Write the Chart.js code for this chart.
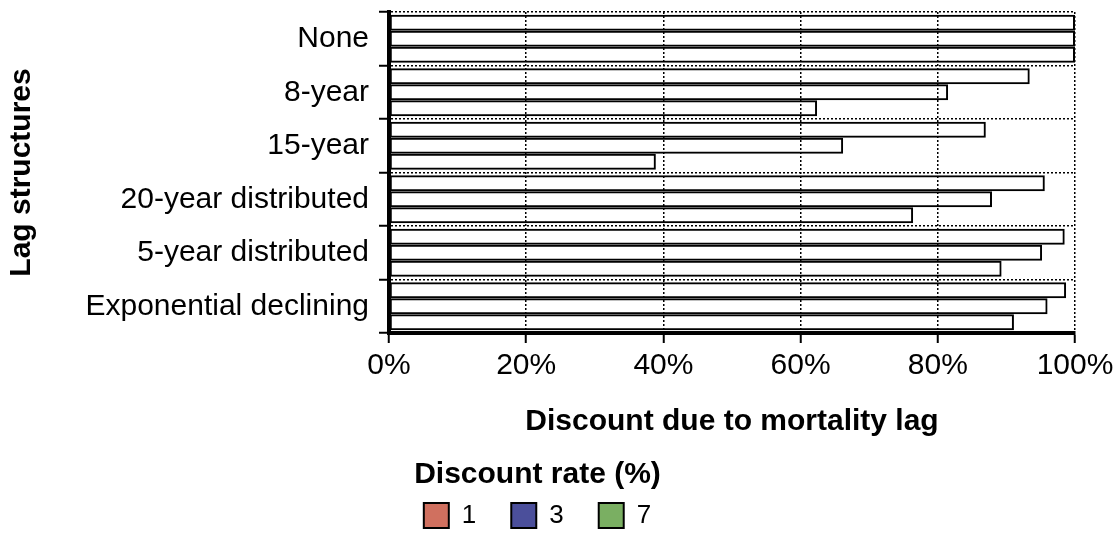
<!DOCTYPE html>
<html><head><meta charset="utf-8">
<script src="https://cdn.jsdelivr.net/npm/chart.js@4"></script>
<style>html,body{margin:0;padding:0;background:#fff;overflow:hidden}</style>
</head><body>
<canvas id="c" width="1120" height="535"></canvas>
<script>
const categories = ['None', '8-year', '15-year', '20-year distributed', '5-year distributed', 'Exponential declining'];
const seriesNames = ['1', '3', '7'];
const rate1 = [100, 93.4, 87.0, 95.6, 98.5, 98.7];
const rate3 = [100, 81.5, 66.2, 87.9, 95.2, 96.0];
const rate7 = [100, 62.4, 38.9, 76.4, 89.3, 91.1];
const legendColors = ['#d0705f', '#4b4f9b', '#7aaf62'];
const xTickValues = [0, 20, 40, 60, 80, 100];
const xTitle = 'Discount due to mortality lag';
const yTitle = 'Lag structures';
const legendTitle = 'Discount rate (%)';

Chart.defaults.font.family = "'Liberation Sans', Arial, sans-serif";
Chart.defaults.color = '#000';

const seriesData = [rate1, rate3, rate7];
const datasets = seriesNames.map((name, i) => ({
  label: name,
  data: seriesData[i],
  backgroundColor: 'rgba(255,255,255,0)',
  borderColor: '#000',
  borderWidth: 2,
  borderSkipped: false,
  barPercentage: 1.0,
  categoryPercentage: 0.9
}));

new Chart(document.getElementById('c'), {
  type: 'bar',
  data: { labels: categories, datasets },
  options: {
    indexAxis: 'y',
    responsive: false,
    animation: false,
    devicePixelRatio: 1,
    layout: { padding: { left: 0, right: 45, top: 12, bottom: -3.5 } },
    plugins: {
      tooltip: { enabled: false },
      legend: {
        position: 'bottom',
        align: 'center',
        title: {
          display: true,
          text: legendTitle,
          font: { size: 30, weight: 'bold' },
          padding: { top: 0, bottom: -28.5 }
        },
        labels: {
          boxWidth: 25,
          boxHeight: 25,
          padding: 35,
          font: { size: 26 },
          generateLabels: (chart) => chart.data.datasets.map((ds, i) => ({
            text: ds.label,
            fillStyle: legendColors[i],
            strokeStyle: '#000',
            lineWidth: 2,
            hidden: false,
            datasetIndex: i
          }))
        }
      }
    },
    scales: {
      x: {
        min: 0, max: 100,
        afterBuildTicks: (scale) => { scale.ticks = xTickValues.map(v => ({ value: v })); },
        afterFit: (scale) => { scale.height = 127; },
        ticks: { padding: 5, font: { size: 30 }, callback: (v) => v + '%' },
        grid: {
          color: '#000', lineWidth: 1.5,
          tickLength: 10, tickColor: '#000', tickWidth: 2, tickBorderDash: []
        },
        border: { display: true, color: '#000', width: 4, dash: [2, 2] },
        title: { display: true, text: xTitle, font: { size: 30, weight: 'bold' }, padding: { top: 0, bottom: 20 } }
      },
      y: {
        afterFit: (scale) => { scale.width = 389; scale.paddingTop = 0; scale.paddingBottom = 0; },
        ticks: { padding: 10, font: { size: 30 } },
        grid: {
          color: '#000', lineWidth: 1.5, offset: true,
          tickLength: 10, tickColor: '#000', tickWidth: 2, tickBorderDash: []
        },
        border: { display: true, color: '#000', width: 4, dash: [2, 2] },
        title: { display: true, text: yTitle, font: { size: 30, weight: 'bold' }, padding: { top: 4, bottom: 0 } }
      }
    }
  }
});
</script>
</body></html>
